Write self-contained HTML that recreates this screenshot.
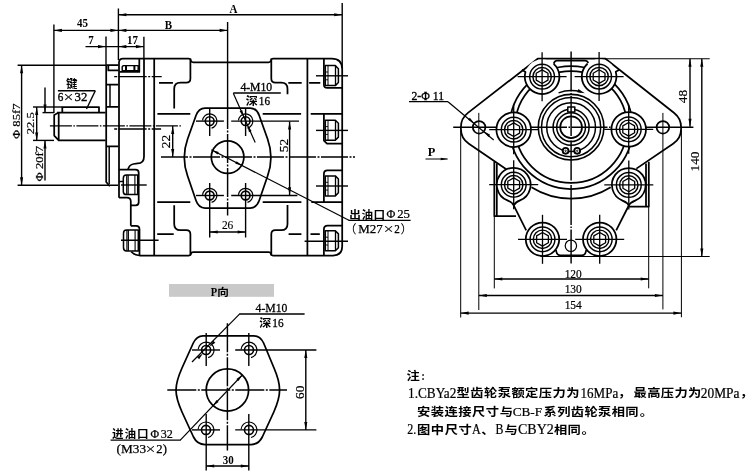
<!DOCTYPE html>
<html lang="zh">
<head>
<meta charset="utf-8">
<title>CBYa2型齿轮泵</title>
<style>
html,body{margin:0;padding:0;background:#fff;}
body{width:750px;height:475px;overflow:hidden;}
svg{display:block;will-change:transform;}
svg text{white-space:pre;}
</style>
</head>
<body>
<svg width="750" height="475" viewBox="0 0 750 475" fill="none" stroke="#000" stroke-linecap="butt" stroke-linejoin="round">
<rect x="0" y="0" width="750" height="475" fill="#fff" stroke="none" style="stroke:none"/>
<line x1="53.9" y1="24.6" x2="53.9" y2="113" stroke-width="1.4"/>
<line x1="106" y1="36.4" x2="106" y2="65" stroke-width="1.4"/>
<line x1="118.4" y1="8.5" x2="118.4" y2="60" stroke-width="1.4"/>
<line x1="143.9" y1="36.7" x2="143.9" y2="58.5" stroke-width="1.4"/>
<line x1="227.6" y1="22" x2="227.6" y2="100" stroke-width="1.4"/>
<line x1="342.2" y1="3" x2="342.2" y2="68" stroke-width="1.4"/>
<line x1="118.4" y1="14.7" x2="342.2" y2="14.7" stroke-width="1.4"/>
<polygon points="118.4,14.7 126.4,13.15 126.4,16.25" fill="#000" stroke="none"/>
<polygon points="342.2,14.7 334.2,16.25 334.2,13.15" fill="#000" stroke="none"/>
<text transform="translate(233.6 12.6) scale(0.86 1)" font-size="12.8" text-anchor="middle" font-weight="bold" font-family="&quot;Liberation Serif&quot;, &quot;Noto Sans CJK SC&quot;, serif" fill="#000" stroke="none">A</text>
<line x1="53.9" y1="30.4" x2="227.6" y2="30.4" stroke-width="1.4"/>
<polygon points="53.9,30.4 61.9,28.85 61.9,31.95" fill="#000" stroke="none"/>
<polygon points="118.4,30.4 110.4,31.95 110.4,28.85" fill="#000" stroke="none"/>
<polygon points="118.4,30.4 126.4,28.85 126.4,31.95" fill="#000" stroke="none"/>
<polygon points="227.6,30.4 219.6,31.95 219.6,28.85" fill="#000" stroke="none"/>
<text transform="translate(168.3 28.7) scale(0.86 1)" font-size="12.8" text-anchor="middle" font-weight="bold" font-family="&quot;Liberation Serif&quot;, &quot;Noto Sans CJK SC&quot;, serif" fill="#000" stroke="none">B</text>
<text transform="translate(82.5 26.9) scale(0.86 1)" font-size="12.8" text-anchor="middle" font-weight="bold" font-family="&quot;Liberation Serif&quot;, &quot;Noto Sans CJK SC&quot;, serif" fill="#000" stroke="none">45</text>
<line x1="85.5" y1="46.6" x2="143.9" y2="46.6" stroke-width="1.4"/>
<polygon points="106,46.6 98,48.15 98,45.05" fill="#000" stroke="none"/>
<polygon points="118.4,46.6 126.4,45.05 126.4,48.15" fill="#000" stroke="none"/>
<polygon points="143.9,46.6 135.9,48.15 135.9,45.05" fill="#000" stroke="none"/>
<text transform="translate(90.9 44.4) scale(0.86 1)" font-size="12.8" text-anchor="middle" font-weight="bold" font-family="&quot;Liberation Serif&quot;, &quot;Noto Sans CJK SC&quot;, serif" fill="#000" stroke="none">7</text>
<text transform="translate(132.4 44.4) scale(0.86 1)" font-size="12.8" text-anchor="middle" font-weight="bold" font-family="&quot;Liberation Serif&quot;, &quot;Noto Sans CJK SC&quot;, serif" fill="#000" stroke="none">17</text>
<line x1="17.6" y1="65.3" x2="106" y2="65.3" stroke-width="1.4"/>
<line x1="17.6" y1="185.2" x2="118" y2="185.2" stroke-width="1.4"/>
<line x1="21.6" y1="65.3" x2="21.6" y2="185.2" stroke-width="1.4"/>
<polygon points="21.6,65.3 23.15,73.3 20.05,73.3" fill="#000" stroke="none"/>
<polygon points="21.6,185.2 20.05,177.2 23.15,177.2" fill="#000" stroke="none"/>
<text transform="translate(19.6 121.3) rotate(-90) scale(1 0.86)" font-size="12.6" text-anchor="middle" font-weight="normal" font-family="&quot;Liberation Serif&quot;, &quot;Noto Sans CJK SC&quot;, serif" fill="#000" stroke="#000" stroke-width="0.22">Φ<tspan dx="3.15">85f7</tspan></text>
<line x1="33" y1="107" x2="62.3" y2="107" stroke-width="1.4"/>
<line x1="33" y1="140.4" x2="54" y2="140.4" stroke-width="1.4"/>
<line x1="36.7" y1="107" x2="36.7" y2="140.4" stroke-width="1.4"/>
<polygon points="36.7,107 38.25,115 35.15,115" fill="#000" stroke="none"/>
<polygon points="36.7,140.4 35.15,132.4 38.25,132.4" fill="#000" stroke="none"/>
<text transform="translate(34.4 123.3) rotate(-90) scale(1 0.86)" font-size="12.6" text-anchor="middle" font-weight="normal" font-family="&quot;Liberation Serif&quot;, &quot;Noto Sans CJK SC&quot;, serif" fill="#000" stroke="#000" stroke-width="0.22">22.5</text>
<line x1="45" y1="87.6" x2="45" y2="112.6" stroke-width="1.4"/>
<line x1="45" y1="140.4" x2="45" y2="180.4" stroke-width="1.4"/>
<line x1="42.5" y1="112.6" x2="54" y2="112.6" stroke-width="1.4"/>
<polygon points="45,112.6 43.45,104.6 46.55,104.6" fill="#000" stroke="none"/>
<polygon points="45,140.4 46.55,148.4 43.45,148.4" fill="#000" stroke="none"/>
<text transform="translate(42.9 163.7) rotate(-90) scale(1 0.86)" font-size="12.6" text-anchor="middle" font-weight="normal" font-family="&quot;Liberation Serif&quot;, &quot;Noto Sans CJK SC&quot;, serif" fill="#000" stroke="#000" stroke-width="0.22">Φ<tspan dx="3.15">20f7</tspan></text>
<text transform="translate(0 88.4) scale(1 0.95)" fill="#000"><tspan x="66.02" y="0" font-size="11.5" font-weight="bold" font-family="&quot;Liberation Sans&quot;, &quot;Noto Sans CJK SC&quot;, sans-serif" stroke="none" letter-spacing="0">键</tspan></text>
<line x1="57.9" y1="90.8" x2="95.3" y2="90.8" stroke-width="1.4"/>
<line x1="95.3" y1="90.8" x2="86.5" y2="109" stroke-width="1.4"/>
<text transform="translate(0 100.9) scale(1 1)" fill="#000"><tspan x="57.8" y="0" font-size="12.3" font-weight="normal" font-family="&quot;Liberation Serif&quot;, serif" stroke="#000" stroke-width="0.35" letter-spacing="0" textLength="5.6" lengthAdjust="spacingAndGlyphs">6</tspan><tspan x="63.6" y="0.7" font-size="15" font-weight="normal" font-family="&quot;Liberation Serif&quot;, serif" stroke="#000" stroke-width="0.15" letter-spacing="0" textLength="10" lengthAdjust="spacingAndGlyphs">×</tspan><tspan x="74.6" y="0" font-size="12.3" font-weight="normal" font-family="&quot;Liberation Serif&quot;, serif" stroke="#000" stroke-width="0.35" letter-spacing="0" textLength="12.8" lengthAdjust="spacingAndGlyphs">32</tspan></text>
<path d="M58.7,112.6 L54.2,115 L54.2,135.6 L58.7,140.4 L105.6,140.4 M57,112.6 L105.6,112.6 M58.7,112.6 L58.7,140.4" stroke-width="1.75" fill="none"/>
<path d="M62.3,112.6 L62.3,107 L99,107 L99,112.6" stroke-width="1.75" fill="none"/>
<line x1="49.9" y1="125.9" x2="181.5" y2="125.9" stroke-width="1.4" stroke-dasharray="22 1.5 1.5 1.5"/>
<path d="M106.2,65.2 L118.4,65.2 M106.2,65.2 L106.2,182 L109.8,186.3" stroke-width="1.75" fill="none"/>
<path d="M109.2,146.4 L109.2,184" stroke-width="1.45" fill="none"/>
<path d="M108.3,65.2 L108.3,70.4 L118.4,70.4 M106.2,84.7 L118.4,84.7" stroke-width="1.75" fill="none"/>
<path d="M110,84.9 L110,106.9" stroke-width="1.45" fill="none"/>
<path d="M106.2,106.9 L118.4,106.9 M106.2,146.4 L118.4,146.4" stroke-width="1.75" fill="none"/>
<path d="M119,197.7 L119,62.6 Q119,58.6 123,58.6 L188.8,58.6 Q190.6,58.6 190.9,60.4 Q191.3,62.3 193.2,62.3 L268.6,62.3 Q270.5,62.3 270.9,60.4 Q271.2,58.6 273,58.6 L331.6,58.6 Q342.2,58.6 342.2,69.2 L342.2,246.3 Q342.2,255.5 333,255.5 L273,255.5 Q271.2,255.5 270.9,253.8 Q270.5,252 268.6,252 L193.2,252 Q191.3,252 190.9,253.8 Q190.6,255.5 188.8,255.5 L139.5,255.5 Q134,255 131.3,251.8" stroke-width="1.75" fill="none"/>
<path d="M119,197.7 L127,197.7 Q130.8,197.7 130.8,201.5 L130.8,225.8" stroke-width="1.75" fill="none"/>
<path d="M154.2,58.6 L154.2,255.5 M307.4,58.6 L307.4,255.5" stroke-width="1.75" fill="none"/>
<path d="M144,58.6 L144,156.4 C144,161 141.5,163.3 137.7,163.3 L133.5,164 C130,164.6 128.6,167 128,169.5" stroke-width="1.75" fill="none"/>
<path d="M190.4,58.6 L190.4,78.5 Q190.4,82.6 186.3,82.6 L180.5,82.6 Q174.2,82.6 174.2,88.9 L174.2,108.5" stroke-width="1.75" fill="none"/>
<path d="M271.3,58.6 L271.3,78.5 Q271.3,82.6 275.4,82.6 L281.2,82.6 Q287.5,82.6 287.5,88.9 L287.5,94.3" stroke-width="1.75" fill="none"/>
<path d="M190.4,255.5 L190.4,234.3 Q190.4,230.2 186.3,230.2 L180.5,230.2 Q174.2,230.2 174.2,223.9 L174.2,205.3" stroke-width="1.75" fill="none"/>
<path d="M271.3,255.5 L271.3,234.3 Q271.3,230.2 275.4,230.2 L281.2,230.2 Q287.5,230.2 287.5,223.9 L287.5,205" stroke-width="1.75" fill="none"/>
<path d="M159,82.9 H172.9 M288.3,82.9 H301.7 M309.1,82.9 H320.3 M157.4,113.9 H190.3 M262.7,113.9 H301.1 M310.7,113.9 H342 M157.2,202.2 H190.3 M262.7,202.2 H301.4 M311.3,202.2 H342 M157.2,234 H173.7 M288.6,234 H301.4 M310.5,234 H319.8" stroke-width="1.75" fill="none"/>
<path d="M119.6,71.9 L139.3,71.9 L139.3,58.6" stroke-width="1.75" fill="none"/>
<path d="M122.2,70.8 L122.2,66.8 L123.4,65.6 L138.2,65.6 L138.2,70.8 Z" stroke-width="1.45" fill="none"/>
<path d="M126,65.6 V70.8 M134.4,65.6 V70.8" stroke-width="2.0" fill="none"/>
<line x1="114.2" y1="76.6" x2="161.7" y2="76.6" stroke-width="1.4" stroke-dasharray="3 1.5 28 1.5 2 1.5 20 0"/>
<line x1="114.2" y1="129" x2="161.1" y2="129" stroke-width="1.4" stroke-dasharray="3 1.5 28 1.5 2 1.5 20 0"/>
<path d="M119,169.5 L135.5,169.5 Q138.7,169.5 138.7,172.7 L138.7,202.3 Q138.7,205.3 135.7,205.3 L130.8,205.3" stroke-width="1.75" fill="none"/>
<path d="M137.7,175 L126.3,175 Q123.3,175 123.3,178.2 L123.3,191.4 Q123.3,194.6 126.3,194.6 L137.7,194.6 Z" stroke-width="1.5" fill="none"/>
<path d="M126.7,175 V194.6 M128.2,175 V194.6 M134.9,175 V194.6" stroke-width="1.1" fill="none"/>
<line x1="119" y1="181.5" x2="123.3" y2="181.5" stroke-width="1.45"/>
<line x1="121" y1="185" x2="146.7" y2="185" stroke-width="1.4"/>
<path d="M130.8,225.8 L136,225.8 Q139.5,225.8 139.5,229.3 L139.5,255.5" stroke-width="1.75" fill="none"/>
<path d="M138.3,230 L126.5,230 Q123.5,230 123.5,233.2 L123.5,247.8 Q123.5,251 126.5,251 L138.3,251 Z" stroke-width="1.5" fill="none"/>
<path d="M126.9,230 V251 M128.4,230 V251 M135.1,230 V251" stroke-width="1.1" fill="none"/>
<line x1="121" y1="240.2" x2="158.6" y2="240.2" stroke-width="1.4"/>
<path d="M323.9,58.6 L323.9,84.4 Q323.9,87.9 327.4,87.9 L342,87.9" stroke-width="1.75" fill="none"/>
<path d="M323.9,113.9 L323.9,140.6 L327,143.7 L342,143.7" stroke-width="1.75" fill="none"/>
<path d="M342,170.3 L327.4,170.3 Q323.9,170.3 323.9,173.8 L323.9,202.2" stroke-width="1.75" fill="none"/>
<path d="M342,225.6 L327.6,225.6 Q323.9,225.6 323.9,229.3 L323.9,255.5" stroke-width="1.75" fill="none"/>
<path d="M325.3,65.6 L335.3,65.6 L338.4,68.7 L338.4,82.5 L335.3,85.6 L325.3,85.6 Z" stroke-width="1.5" fill="none"/>
<path d="M335.5,65.6 V85.6" stroke-width="1.3" fill="none"/>
<path d="M328,65.6 V85.6" stroke-width="1.0" fill="none"/>
<path d="M325.3,72 H328 M325.3,79.8 H328" stroke-width="0.9" fill="none"/>
<path d="M325.3,120.2 L335.3,120.2 L338.4,123.3 L338.4,137.1 L335.3,140.2 L325.3,140.2 Z" stroke-width="1.5" fill="none"/>
<path d="M335.5,120.2 V140.2" stroke-width="1.3" fill="none"/>
<path d="M328,120.2 V140.2" stroke-width="1.0" fill="none"/>
<path d="M325.3,126.6 H328 M325.3,134.4 H328" stroke-width="0.9" fill="none"/>
<path d="M325.3,175.9 L335.3,175.9 L338.4,179 L338.4,192.8 L335.3,195.9 L325.3,195.9 Z" stroke-width="1.5" fill="none"/>
<path d="M335.5,175.9 V195.9" stroke-width="1.3" fill="none"/>
<path d="M328,175.9 V195.9" stroke-width="1.0" fill="none"/>
<path d="M325.3,182.3 H328 M325.3,190.1 H328" stroke-width="0.9" fill="none"/>
<path d="M325.3,230.8 L335.3,230.8 L338.4,233.9 L338.4,247.7 L335.3,250.8 L325.3,250.8 Z" stroke-width="1.5" fill="none"/>
<path d="M335.5,230.8 V250.8" stroke-width="1.3" fill="none"/>
<path d="M328,230.8 V250.8" stroke-width="1.0" fill="none"/>
<path d="M325.3,237.2 H328 M325.3,245 H328" stroke-width="0.9" fill="none"/>
<line x1="316" y1="75.8" x2="348" y2="75.8" stroke-width="1.4"/>
<line x1="316" y1="130.4" x2="348" y2="130.4" stroke-width="1.4"/>
<line x1="316" y1="186" x2="348" y2="186" stroke-width="1.4"/>
<line x1="304.6" y1="241.2" x2="348" y2="241.2" stroke-width="1.4"/>
<path d="M205,108 H250.2 C255.5,108 257.6,111 259.2,115.5 L267.6,139 C271.9,151 271.9,164 267.6,176 L259.2,200.5 C257.6,205 255.5,208 250.2,208 H205 C199.7,208 197.6,205 196,200.5 L187.6,176 C183.3,164 183.3,151 187.6,139 L196,115.5 C197.6,111 199.7,108 205,108 Z" stroke-width="1.75" fill="none"/>
<circle cx="227.6" cy="157.1" r="16.3" stroke-width="1.75" fill="none"/>
<line x1="227.6" y1="100" x2="227.6" y2="215.5" stroke-width="1.45" stroke-dasharray="29 1.5 2 1.5"/>
<line x1="161" y1="157" x2="355" y2="157" stroke-width="1.4" stroke-dasharray="27 1.5 2 1.5"/>
<circle cx="209.7" cy="121.1" r="4.4" stroke-width="1.6" fill="none"/>
<path d="M202.53,120.47 A7.2,7.2 0 1 1 211.56,128.05" stroke-width="1.2" fill="none"/>
<circle cx="245.6" cy="121.1" r="4.4" stroke-width="1.6" fill="none"/>
<path d="M238.43,120.47 A7.2,7.2 0 1 1 247.46,128.05" stroke-width="1.2" fill="none"/>
<circle cx="209.7" cy="195.5" r="4.4" stroke-width="1.6" fill="none"/>
<path d="M202.53,194.87 A7.2,7.2 0 1 1 211.56,202.45" stroke-width="1.2" fill="none"/>
<circle cx="245.6" cy="195.5" r="4.4" stroke-width="1.6" fill="none"/>
<path d="M238.43,194.87 A7.2,7.2 0 1 1 247.46,202.45" stroke-width="1.2" fill="none"/>
<line x1="196" y1="121.1" x2="223.9" y2="121.1" stroke-width="1.4"/>
<line x1="231.2" y1="121.1" x2="299" y2="121.1" stroke-width="1.4"/>
<line x1="196" y1="195.5" x2="223.9" y2="195.5" stroke-width="1.4"/>
<line x1="231.2" y1="195.5" x2="297.4" y2="195.5" stroke-width="1.4"/>
<line x1="209.7" y1="108.9" x2="209.7" y2="136" stroke-width="1.4"/>
<line x1="245.6" y1="108.9" x2="245.6" y2="136" stroke-width="1.4"/>
<line x1="209.7" y1="183" x2="209.7" y2="237.5" stroke-width="1.4"/>
<line x1="245.6" y1="183" x2="245.6" y2="237.5" stroke-width="1.4"/>
<line x1="209.7" y1="232" x2="245.6" y2="232" stroke-width="1.4"/>
<polygon points="209.7,232 217.7,230.45 217.7,233.55" fill="#000" stroke="none"/>
<polygon points="245.6,232 237.6,233.55 237.6,230.45" fill="#000" stroke="none"/>
<text transform="translate(227.6 229.2) scale(0.86 1)" font-size="13.3" text-anchor="middle" font-weight="normal" font-family="&quot;Liberation Serif&quot;, &quot;Noto Sans CJK SC&quot;, serif" fill="#000" stroke="#000" stroke-width="0.15">26</text>
<line x1="289.6" y1="121.5" x2="289.6" y2="195.3" stroke-width="1.4"/>
<polygon points="289.6,121.5 291.15,129.5 288.05,129.5" fill="#000" stroke="none"/>
<polygon points="289.6,195.3 288.05,187.3 291.15,187.3" fill="#000" stroke="none"/>
<text transform="translate(287.6 145.6) rotate(-90) scale(1 0.86)" font-size="13.3" text-anchor="middle" font-weight="normal" font-family="&quot;Liberation Serif&quot;, &quot;Noto Sans CJK SC&quot;, serif" fill="#000" stroke="#000" stroke-width="0.22">52</text>
<line x1="172.7" y1="126" x2="172.7" y2="157" stroke-width="1.4"/>
<polygon points="172.7,126 174.25,134 171.15,134" fill="#000" stroke="none"/>
<polygon points="172.7,157 171.15,149 174.25,149" fill="#000" stroke="none"/>
<text transform="translate(170.2 141.5) rotate(-90) scale(1 0.86)" font-size="13.3" text-anchor="middle" font-weight="normal" font-family="&quot;Liberation Serif&quot;, &quot;Noto Sans CJK SC&quot;, serif" fill="#000" stroke="#000" stroke-width="0.22">22</text>
<text transform="translate(256.3 91.2) scale(0.9 1)" font-size="13" text-anchor="middle" font-weight="normal" font-family="&quot;Liberation Serif&quot;, &quot;Noto Sans CJK SC&quot;, serif" fill="#000" stroke="#000" stroke-width="0.35">4-M10</text>
<line x1="233.3" y1="93.1" x2="280.8" y2="93.1" stroke-width="1.5"/>
<text transform="translate(0 104.8) scale(1 0.9)" fill="#000"><tspan x="245.7" y="0" font-size="12" font-weight="bold" font-family="&quot;Liberation Sans&quot;, &quot;Noto Sans CJK SC&quot;, sans-serif" stroke="none" letter-spacing="0">深</tspan><tspan x="258.8" y="-0.11" font-size="13.67" font-weight="normal" font-family="&quot;Liberation Serif&quot;, serif" stroke="#000" stroke-width="0.35" letter-spacing="0" textLength="11.2" lengthAdjust="spacingAndGlyphs">16</tspan></text>
<line x1="233.3" y1="93.2" x2="255.2" y2="142.5" stroke-width="1.2"/>
<polygon points="243.77,116.99 239.65,111.16 242.21,110.02" fill="#000" stroke="none"/>
<polygon points="247.43,125.21 251.55,131.04 248.99,132.18" fill="#000" stroke="none"/>
<line x1="211.3" y1="149.8" x2="348.9" y2="220.3" stroke-width="1.2"/>
<line x1="348.4" y1="220.3" x2="410.6" y2="220.3" stroke-width="1.3"/>
<polygon points="211.9,150.1 218.77,152.04 217.5,154.53" fill="#000" stroke="none"/>
<polygon points="242.2,165.6 235.33,163.66 236.6,161.17" fill="#000" stroke="none"/>
<text transform="translate(0 218.6) scale(1 0.95)" fill="#000"><tspan x="349.32" y="0" font-size="11.6" font-weight="bold" font-family="&quot;Liberation Sans&quot;, &quot;Noto Sans CJK SC&quot;, sans-serif" stroke="none" letter-spacing="0.5">出油口</tspan><tspan x="386.6" y="-0.21" font-size="12.11" font-weight="normal" font-family="&quot;Liberation Serif&quot;, serif" stroke="#000" stroke-width="0.25" letter-spacing="0" textLength="8.8" lengthAdjust="spacingAndGlyphs">Φ</tspan><tspan x="397.2" y="-0.21" font-size="13.68" font-weight="normal" font-family="&quot;Liberation Serif&quot;, serif" stroke="#000" stroke-width="0.25" letter-spacing="0" textLength="12.8" lengthAdjust="spacingAndGlyphs">25</tspan></text>
<text transform="translate(0 233.6) scale(1 1)" fill="#000"><tspan x="344.6" y="0" font-size="12" font-weight="normal" font-family="&quot;Liberation Sans&quot;, &quot;Noto Sans CJK SC&quot;, sans-serif" stroke="none" letter-spacing="0">（</tspan><tspan x="358.3" y="-0.4" font-size="12.3" font-weight="normal" font-family="&quot;Liberation Serif&quot;, serif" stroke="#000" stroke-width="0.25" letter-spacing="0" textLength="24.5" lengthAdjust="spacingAndGlyphs">M27</tspan><tspan x="383.4" y="0.4" font-size="15" font-weight="normal" font-family="&quot;Liberation Serif&quot;, serif" stroke="#000" stroke-width="0.1" letter-spacing="0" textLength="10.2" lengthAdjust="spacingAndGlyphs">×</tspan><tspan x="394.2" y="-0.4" font-size="12.3" font-weight="normal" font-family="&quot;Liberation Serif&quot;, serif" stroke="#000" stroke-width="0.25" letter-spacing="0" textLength="5.6" lengthAdjust="spacingAndGlyphs">2</tspan><tspan x="400.6" y="0" font-size="12" font-weight="normal" font-family="&quot;Liberation Sans&quot;, &quot;Noto Sans CJK SC&quot;, sans-serif" stroke="none" letter-spacing="0">）</tspan></text>
<circle cx="571.1" cy="127.5" r="61.5" stroke-width="1.75" fill="none"/>
<circle cx="571.1" cy="127" r="55.9" stroke-width="1.75" fill="none"/>
<path d="M531.5,187.2 A74.5,74.5 0 0 0 610.7,187.2" stroke-width="1.75" fill="none"/>
<path d="M506.3,169.2 L468.87,143.75 A18.2,18.2 0 0 1 460.9,128.7 L460.9,127.3 A18.2,18.2 0 0 1 467.93,112.93 L537.7,58.7 L605.5,58.7 L674.19,113.02 A18.2,18.2 0 0 1 681.1,127.3 L681.1,128.7 A18.2,18.2 0 0 1 673.1,143.77 L636.4,168.6" stroke-width="1.75" fill="none"/>
<circle cx="479.1" cy="127.3" r="6.3" stroke-width="1.75" fill="none"/>
<circle cx="662.9" cy="127.3" r="6.3" stroke-width="1.75" fill="none"/>
<path d="M553.7,63.9 Q554.3,60.6 557.6,60.5 H584.6 Q587.9,60.6 588.5,63.9" stroke-width="1.75" fill="none"/>
<path d="M494.3,161.7 V216 H516 M496.8,163.5 V216" stroke-width="1.75" fill="none"/>
<path d="M648.8,161.7 V206.6 H629 M646,163.5 V206.6" stroke-width="1.75" fill="none"/>
<path d="M513.7,205.3 L526.2,230.4 M628.8,205.5 L616.2,230.4" stroke-width="1.75" fill="none"/>
<path d="M556,250 Q556.6,255.4 560.5,255.4 H581.7 Q585.6,255.4 586.2,250" stroke-width="1.75" fill="none"/>
<line x1="540.4" y1="256.5" x2="709.7" y2="256.5" stroke-width="1.1"/>
<line x1="605.5" y1="58.7" x2="709.7" y2="58.7" stroke-width="1.1"/>
<circle cx="570.9" cy="245.8" r="5.7" stroke-width="1.2" fill="none"/>
<circle cx="542.1" cy="76.7" r="17.3" fill="#fff" stroke="none"/>
<path d="M553.68,63.84 A17.3,17.3 0 1 1 525.47,71.93 l-3.6,-2.2" stroke-width="1.75" fill="none"/>
<circle cx="542.1" cy="76.7" r="12.4" stroke-width="1.45" fill="none"/>
<circle cx="542.1" cy="76.7" r="9.2" stroke-width="1.45" fill="none"/>
<polygon points="542.1,83.5 536.21,80.1 536.21,73.3 542.1,69.9 547.99,73.3 547.99,80.1" stroke-width="1.3" fill="none"/>
<circle cx="599.1" cy="76.6" r="17.3" fill="#fff" stroke="none"/>
<path d="M587.52,63.74 A17.3,17.3 0 1 0 615.73,71.83 l3.6,-2.2" stroke-width="1.75" fill="none"/>
<circle cx="599.1" cy="76.6" r="12.4" stroke-width="1.45" fill="none"/>
<circle cx="599.1" cy="76.6" r="9.2" stroke-width="1.45" fill="none"/>
<polygon points="599.1,83.4 593.21,80 593.21,73.2 599.1,69.8 604.99,73.2 604.99,80" stroke-width="1.3" fill="none"/>
<circle cx="513.7" cy="129.7" r="17.3" stroke-width="1.75" fill="#fff"/>
<circle cx="513.7" cy="129.7" r="12.4" stroke-width="1.45" fill="none"/>
<circle cx="513.7" cy="129.7" r="9.2" stroke-width="1.45" fill="none"/>
<polygon points="513.7,136.5 507.81,133.1 507.81,126.3 513.7,122.9 519.59,126.3 519.59,133.1" stroke-width="1.3" fill="none"/>
<circle cx="628.7" cy="129.3" r="17.3" stroke-width="1.75" fill="#fff"/>
<circle cx="628.7" cy="129.3" r="12.4" stroke-width="1.45" fill="none"/>
<circle cx="628.7" cy="129.3" r="9.2" stroke-width="1.45" fill="none"/>
<polygon points="628.7,136.1 622.81,132.7 622.81,125.9 628.7,122.5 634.59,125.9 634.59,132.7" stroke-width="1.3" fill="none"/>
<path d="M513.7,205.3 Q512.2,202.3 507.37,200.37 A16.9,16.9 0 1 1 520.03,200.37 Q515.2,202.3 513.7,205.3 Z" stroke-width="1.75" fill="#fff"/>
<circle cx="513.7" cy="184.7" r="12.4" stroke-width="1.45" fill="none"/>
<circle cx="513.7" cy="184.7" r="9.2" stroke-width="1.45" fill="none"/>
<polygon points="513.7,191.5 507.81,188.1 507.81,181.3 513.7,177.9 519.59,181.3 519.59,188.1" stroke-width="1.3" fill="none"/>
<path d="M628.8,205.5 Q627.3,202.5 622.47,200.57 A16.9,16.9 0 1 1 635.13,200.57 Q630.3,202.5 628.8,205.5 Z" stroke-width="1.75" fill="#fff"/>
<circle cx="628.8" cy="184.9" r="12.4" stroke-width="1.45" fill="none"/>
<circle cx="628.8" cy="184.9" r="9.2" stroke-width="1.45" fill="none"/>
<polygon points="628.8,191.7 622.91,188.3 622.91,181.5 628.8,178.1 634.69,181.5 634.69,188.3" stroke-width="1.3" fill="none"/>
<circle cx="542.5" cy="239.3" r="16.7" stroke-width="1.75" fill="#fff"/>
<circle cx="542.5" cy="239.3" r="12.4" stroke-width="1.45" fill="none"/>
<circle cx="542.5" cy="239.3" r="9.2" stroke-width="1.45" fill="none"/>
<polygon points="542.5,246.1 536.61,242.7 536.61,235.9 542.5,232.5 548.39,235.9 548.39,242.7" stroke-width="1.3" fill="none"/>
<circle cx="599.7" cy="239.3" r="16.7" stroke-width="1.75" fill="#fff"/>
<circle cx="599.7" cy="239.3" r="12.4" stroke-width="1.45" fill="none"/>
<circle cx="599.7" cy="239.3" r="9.2" stroke-width="1.45" fill="none"/>
<polygon points="599.7,246.1 593.81,242.7 593.81,235.9 599.7,232.5 605.59,235.9 605.59,242.7" stroke-width="1.3" fill="none"/>
<circle cx="571.1" cy="127.2" r="10.9" stroke-width="1.7" fill="none"/>
<circle cx="571.1" cy="127.2" r="14.4" stroke-width="1.5" fill="none"/>
<circle cx="571.1" cy="127.2" r="18" stroke-width="1.5" fill="none"/>
<circle cx="571.1" cy="127.2" r="24.4" stroke-width="1.5" fill="none"/>
<circle cx="571.1" cy="127.2" r="29.6" stroke-width="1.5" fill="none"/>
<circle cx="571.1" cy="127.2" r="32.8" stroke-width="1.6" fill="none"/>
<rect x="567.8" y="107.1" width="7" height="5" stroke-width="1.5" fill="#fff"/>
<circle cx="565.6" cy="150.8" r="2.9" stroke-width="1.9" fill="#fff"/>
<circle cx="565.6" cy="150.8" r="0.7" stroke-width="0.9" fill="none"/>
<circle cx="577.2" cy="150.8" r="2.9" stroke-width="1.9" fill="#fff"/>
<circle cx="577.2" cy="150.8" r="0.7" stroke-width="0.9" fill="none"/>
<path d="M558.58,92.81 A36.6,36.6 0 0 1 581.19,92.02" stroke-width="1.4" fill="none"/>
<polygon points="584.81,93.27 577.18,92.3 578.34,89.1" fill="#000" stroke="none"/>
<line x1="453.2" y1="127.3" x2="496.5" y2="127.3" stroke-width="1.4"/>
<line x1="531" y1="127.3" x2="611.2" y2="127.3" stroke-width="1.4" stroke-dasharray="36 1.5 1.5 1.5"/>
<line x1="645.7" y1="127.3" x2="693.4" y2="127.3" stroke-width="1.4"/>
<line x1="571.1" y1="51.5" x2="571.1" y2="263.5" stroke-width="1.45" stroke-dasharray="40 1.5 1.5 1.5"/>
<line x1="517.6" y1="76.7" x2="566.6" y2="76.7" stroke-width="1.3"/>
<line x1="542.1" y1="52.2" x2="542.1" y2="101.2" stroke-width="1.3"/>
<line x1="574.6" y1="76.6" x2="623.6" y2="76.6" stroke-width="1.3"/>
<line x1="599.1" y1="52.1" x2="599.1" y2="101.1" stroke-width="1.3"/>
<line x1="489.2" y1="129.7" x2="538.2" y2="129.7" stroke-width="1.3"/>
<line x1="513.7" y1="105.2" x2="513.7" y2="154.2" stroke-width="1.3"/>
<line x1="604.2" y1="129.3" x2="653.2" y2="129.3" stroke-width="1.3"/>
<line x1="628.7" y1="104.8" x2="628.7" y2="153.8" stroke-width="1.3"/>
<line x1="489.2" y1="184.7" x2="538.2" y2="184.7" stroke-width="1.3"/>
<line x1="513.7" y1="160.2" x2="513.7" y2="209.2" stroke-width="1.3"/>
<line x1="604.3" y1="184.9" x2="653.3" y2="184.9" stroke-width="1.3"/>
<line x1="628.8" y1="160.4" x2="628.8" y2="209.4" stroke-width="1.3"/>
<line x1="518" y1="239.3" x2="567" y2="239.3" stroke-width="1.3"/>
<line x1="542.5" y1="214.8" x2="542.5" y2="263.8" stroke-width="1.3"/>
<line x1="575.2" y1="239.3" x2="624.2" y2="239.3" stroke-width="1.3"/>
<line x1="599.7" y1="214.8" x2="599.7" y2="263.8" stroke-width="1.3"/>
<line x1="460.7" y1="130" x2="460.7" y2="317.5" stroke-width="1.0"/>
<line x1="478.8" y1="112.9" x2="478.8" y2="310" stroke-width="1.0"/>
<line x1="494.3" y1="216" x2="494.3" y2="288.4" stroke-width="1.0"/>
<line x1="648.7" y1="206.8" x2="648.7" y2="288.3" stroke-width="1.0"/>
<line x1="662.9" y1="112.9" x2="662.9" y2="309.4" stroke-width="1.0"/>
<line x1="681.4" y1="130" x2="681.4" y2="317.3" stroke-width="1.0"/>
<line x1="494.3" y1="279" x2="648.7" y2="279" stroke-width="1.4"/>
<polygon points="494.3,279 502.3,277.45 502.3,280.55" fill="#000" stroke="none"/>
<polygon points="648.7,279 640.7,280.55 640.7,277.45" fill="#000" stroke="none"/>
<text transform="translate(573.2 277.6) scale(0.86 1)" font-size="13.3" text-anchor="middle" font-weight="normal" font-family="&quot;Liberation Serif&quot;, &quot;Noto Sans CJK SC&quot;, serif" fill="#000" stroke="#000" stroke-width="0.22">120</text>
<line x1="478.8" y1="295.5" x2="662.9" y2="295.5" stroke-width="1.4"/>
<polygon points="478.8,295.5 486.8,293.95 486.8,297.05" fill="#000" stroke="none"/>
<polygon points="662.9,295.5 654.9,297.05 654.9,293.95" fill="#000" stroke="none"/>
<text transform="translate(573.2 292.5) scale(0.86 1)" font-size="13.3" text-anchor="middle" font-weight="normal" font-family="&quot;Liberation Serif&quot;, &quot;Noto Sans CJK SC&quot;, serif" fill="#000" stroke="#000" stroke-width="0.22">130</text>
<line x1="460.7" y1="313.1" x2="681.4" y2="313.1" stroke-width="1.4"/>
<polygon points="460.7,313.1 468.7,311.55 468.7,314.65" fill="#000" stroke="none"/>
<polygon points="681.4,313.1 673.4,314.65 673.4,311.55" fill="#000" stroke="none"/>
<text transform="translate(573.2 309.2) scale(0.86 1)" font-size="13.3" text-anchor="middle" font-weight="normal" font-family="&quot;Liberation Serif&quot;, &quot;Noto Sans CJK SC&quot;, serif" fill="#000" stroke="#000" stroke-width="0.22">154</text>
<line x1="690" y1="58.7" x2="690" y2="126.8" stroke-width="1.4"/>
<polygon points="690,58.7 691.55,66.7 688.45,66.7" fill="#000" stroke="none"/>
<polygon points="690,126.8 688.45,118.8 691.55,118.8" fill="#000" stroke="none"/>
<text transform="translate(687.3 96.5) rotate(-90) scale(1 0.86)" font-size="13.3" text-anchor="middle" font-weight="normal" font-family="&quot;Liberation Serif&quot;, &quot;Noto Sans CJK SC&quot;, serif" fill="#000" stroke="#000" stroke-width="0.22">48</text>
<line x1="701.8" y1="58.7" x2="701.8" y2="256.5" stroke-width="1.4"/>
<polygon points="701.8,58.7 703.35,66.7 700.25,66.7" fill="#000" stroke="none"/>
<polygon points="701.8,256.5 700.25,248.5 703.35,248.5" fill="#000" stroke="none"/>
<text transform="translate(699.2 161.5) rotate(-90) scale(1 0.86)" font-size="13.3" text-anchor="middle" font-weight="normal" font-family="&quot;Liberation Serif&quot;, &quot;Noto Sans CJK SC&quot;, serif" fill="#000" stroke="#000" stroke-width="0.22">140</text>
<text transform="translate(427.8 99.6) scale(0.92 1)" font-size="12.8" text-anchor="middle" font-weight="normal" font-family="&quot;Liberation Serif&quot;, &quot;Noto Sans CJK SC&quot;, serif" fill="#000" stroke="#000" stroke-width="0.35">2-Φ<tspan dx="3.2">11</tspan></text>
<line x1="409" y1="101.7" x2="448" y2="101.7" stroke-width="1.2"/>
<line x1="448" y1="101.7" x2="493.7" y2="140" stroke-width="1.2"/>
<polygon points="474.27,123.25 468.01,119.83 469.81,117.68" fill="#000" stroke="none"/>
<polygon points="483.93,131.35 490.19,134.77 488.39,136.92" fill="#000" stroke="none"/>
<text transform="translate(431.6 155.7) scale(0.95 1)" font-size="13" text-anchor="middle" font-weight="bold" font-family="&quot;Liberation Serif&quot;, &quot;Noto Sans CJK SC&quot;, serif" fill="#000" stroke="none">P</text>
<line x1="425.5" y1="159" x2="447.7" y2="159" stroke-width="1.0"/>
<polygon points="447.7,159 440.7,160.3 440.7,157.7" fill="#000" stroke="none"/>
<rect x="169" y="284" width="105" height="12.8" fill="#c9c9c9" stroke="none"/>
<text transform="translate(0 296) scale(1 0.92)" fill="#000"><tspan x="210.8" y="0" font-size="12.61" font-weight="bold" font-family="&quot;Liberation Serif&quot;, serif" stroke="none" letter-spacing="0" textLength="6.4" lengthAdjust="spacingAndGlyphs">P</tspan><tspan x="217.22" y="0.22" font-size="11.6" font-weight="bold" font-family="&quot;Liberation Sans&quot;, &quot;Noto Sans CJK SC&quot;, sans-serif" stroke="none" letter-spacing="-0.6">向</tspan></text>
<path d="M203,335.8 H253.5 C258.5,335.8 261.5,338.3 263.6,343 L274,368 C277.9,377 279.6,383 279.6,390 C279.6,397 277.8,403 273.8,412 L262.3,437 C259.8,442 256.5,444.5 251,444.5 H205 C199.5,444.5 196,442 193.5,437 L182,412 C178,403 176,397 176,390 C176,383 178,377 182,368 L193.3,343 C195.5,338.3 198.3,335.8 203,335.8 Z" stroke-width="1.75" fill="none"/>
<circle cx="227.4" cy="390" r="21.2" stroke-width="1.75" fill="none"/>
<line x1="167.3" y1="390" x2="287" y2="390" stroke-width="1.4" stroke-dasharray="29 1.5 2 1.5"/>
<line x1="227.4" y1="323.2" x2="227.4" y2="450.4" stroke-width="1.45" stroke-dasharray="29 1.5 2 1.5"/>
<circle cx="206.1" cy="350" r="4.5" stroke-width="1.6" fill="none"/>
<path d="M198.23,349.31 A7.9,7.9 0 1 1 208.14,357.63" stroke-width="1.2" fill="none"/>
<circle cx="249" cy="350" r="4.5" stroke-width="1.6" fill="none"/>
<path d="M241.13,349.31 A7.9,7.9 0 1 1 251.04,357.63" stroke-width="1.2" fill="none"/>
<circle cx="206" cy="429.9" r="4.5" stroke-width="1.6" fill="none"/>
<path d="M198.13,429.21 A7.9,7.9 0 1 1 208.04,437.53" stroke-width="1.2" fill="none"/>
<circle cx="249" cy="429.9" r="4.5" stroke-width="1.6" fill="none"/>
<path d="M241.13,429.21 A7.9,7.9 0 1 1 251.04,437.53" stroke-width="1.2" fill="none"/>
<line x1="192" y1="350" x2="220" y2="350" stroke-width="1.4"/>
<line x1="235.2" y1="350" x2="316.4" y2="350" stroke-width="1.4"/>
<line x1="192" y1="429.9" x2="220" y2="429.9" stroke-width="1.4"/>
<line x1="235.2" y1="429.9" x2="316.4" y2="429.9" stroke-width="1.4"/>
<line x1="206.2" y1="333" x2="206.2" y2="366" stroke-width="1.4"/>
<line x1="248.8" y1="333" x2="248.8" y2="366" stroke-width="1.4"/>
<line x1="206.2" y1="414" x2="206.2" y2="470.4" stroke-width="1.4"/>
<line x1="248.8" y1="414" x2="248.8" y2="470.4" stroke-width="1.4"/>
<line x1="206.2" y1="466" x2="248.8" y2="466" stroke-width="1.4"/>
<polygon points="206.2,466 214.2,464.45 214.2,467.55" fill="#000" stroke="none"/>
<polygon points="248.8,466 240.8,467.55 240.8,464.45" fill="#000" stroke="none"/>
<text transform="translate(228.2 464) scale(0.86 1)" font-size="12.8" text-anchor="middle" font-weight="bold" font-family="&quot;Liberation Serif&quot;, &quot;Noto Sans CJK SC&quot;, serif" fill="#000" stroke="none">30</text>
<line x1="305.8" y1="350" x2="305.8" y2="429.9" stroke-width="1.4"/>
<polygon points="305.8,350 307.35,358 304.25,358" fill="#000" stroke="none"/>
<polygon points="305.8,429.9 304.25,421.9 307.35,421.9" fill="#000" stroke="none"/>
<text transform="translate(303.5 392.3) rotate(-90) scale(1 0.86)" font-size="13.3" text-anchor="middle" font-weight="normal" font-family="&quot;Liberation Serif&quot;, &quot;Noto Sans CJK SC&quot;, serif" fill="#000" stroke="#000" stroke-width="0.22">60</text>
<text transform="translate(271.5 312.4) scale(0.9 1)" font-size="13" text-anchor="middle" font-weight="normal" font-family="&quot;Liberation Serif&quot;, &quot;Noto Sans CJK SC&quot;, serif" fill="#000" stroke="#000" stroke-width="0.3">4-M10</text>
<line x1="239.6" y1="313.9" x2="304.6" y2="313.9" stroke-width="1.5"/>
<text transform="translate(0 326.8) scale(1 0.9)" fill="#000"><tspan x="259.2" y="0" font-size="12" font-weight="bold" font-family="&quot;Liberation Sans&quot;, &quot;Noto Sans CJK SC&quot;, sans-serif" stroke="none" letter-spacing="0">深</tspan><tspan x="272.3" y="-0.11" font-size="13.67" font-weight="normal" font-family="&quot;Liberation Serif&quot;, serif" stroke="#000" stroke-width="0.35" letter-spacing="0" textLength="11.2" lengthAdjust="spacingAndGlyphs">16</tspan></text>
<line x1="240" y1="313.6" x2="192" y2="362" stroke-width="1.2"/>
<polygon points="209.37,346.8 213.3,340.85 215.29,342.82" fill="#000" stroke="none"/>
<polygon points="203.03,353.2 199.1,359.15 197.11,357.18" fill="#000" stroke="none"/>
<line x1="242.3" y1="375" x2="180.3" y2="440.1" stroke-width="1.2"/>
<line x1="180.8" y1="440.1" x2="110.6" y2="440.1" stroke-width="1.3"/>
<polygon points="242.3,375 238.47,381.03 236.45,379.09" fill="#000" stroke="none"/>
<polygon points="212.7,406 216.53,399.97 218.55,401.91" fill="#000" stroke="none"/>
<text transform="translate(0 438.3) scale(1 0.95)" fill="#000"><tspan x="112.12" y="0" font-size="11.6" font-weight="bold" font-family="&quot;Liberation Sans&quot;, &quot;Noto Sans CJK SC&quot;, sans-serif" stroke="none" letter-spacing="0.8">进油口</tspan><tspan x="150.4" y="-0.11" font-size="12.11" font-weight="normal" font-family="&quot;Liberation Serif&quot;, serif" stroke="#000" stroke-width="0.25" letter-spacing="0" textLength="8.6" lengthAdjust="spacingAndGlyphs">Φ</tspan><tspan x="160.7" y="-0.11" font-size="13.68" font-weight="normal" font-family="&quot;Liberation Serif&quot;, serif" stroke="#000" stroke-width="0.25" letter-spacing="0" textLength="12.1" lengthAdjust="spacingAndGlyphs">32</tspan></text>
<text transform="translate(0 453) scale(1 1)" fill="#000"><tspan x="116.6" y="0" font-size="12.3" font-weight="normal" font-family="&quot;Liberation Serif&quot;, serif" stroke="#000" stroke-width="0.25" letter-spacing="0" textLength="29.4" lengthAdjust="spacingAndGlyphs">(M33</tspan><tspan x="145.6" y="0.8" font-size="15" font-weight="normal" font-family="&quot;Liberation Serif&quot;, serif" stroke="#000" stroke-width="0.1" letter-spacing="0" textLength="10" lengthAdjust="spacingAndGlyphs">×</tspan><tspan x="156.3" y="0" font-size="12.3" font-weight="normal" font-family="&quot;Liberation Serif&quot;, serif" stroke="#000" stroke-width="0.25" letter-spacing="0" textLength="10.6" lengthAdjust="spacingAndGlyphs">2)</tspan></text>
<text transform="translate(0 379.7) scale(1 0.88)" fill="#000"><tspan x="406.44" y="0" font-size="13.3" font-weight="bold" font-family="&quot;Liberation Sans&quot;, &quot;Noto Sans CJK SC&quot;, sans-serif" stroke="none" letter-spacing="0.4">注</tspan><tspan x="421.4" y="-0.11" font-size="14.77" font-weight="bold" font-family="&quot;Liberation Serif&quot;, serif" stroke="none" letter-spacing="0" textLength="3.2" lengthAdjust="spacingAndGlyphs">:</tspan></text>
<text transform="translate(0 397.7) scale(1 0.88)" fill="#000"><tspan x="408" y="0" font-size="16.59" font-weight="normal" font-family="&quot;Liberation Serif&quot;, serif" stroke="#000" stroke-width="0.25" letter-spacing="0" textLength="48.4" lengthAdjust="spacingAndGlyphs">1.CBYa2</tspan><tspan x="456.44" y="-0.34" font-size="13.3" font-weight="bold" font-family="&quot;Liberation Sans&quot;, &quot;Noto Sans CJK SC&quot;, sans-serif" stroke="none" letter-spacing="0.45">型齿轮泵额定压力为</tspan><tspan x="580.6" y="0" font-size="16.14" font-weight="normal" font-family="&quot;Liberation Serif&quot;, serif" stroke="#000" stroke-width="0.25" letter-spacing="0" textLength="37.6" lengthAdjust="spacingAndGlyphs">16MPa</tspan><tspan x="617.94" y="-0.34" font-size="13.3" font-weight="bold" font-family="&quot;Liberation Sans&quot;, &quot;Noto Sans CJK SC&quot;, sans-serif" stroke="none" letter-spacing="0.4">，</tspan><tspan x="633.63" y="-0.34" font-size="13.3" font-weight="bold" font-family="&quot;Liberation Sans&quot;, &quot;Noto Sans CJK SC&quot;, sans-serif" stroke="none" letter-spacing="0.3">最高压力为</tspan><tspan x="700.8" y="0" font-size="16.14" font-weight="normal" font-family="&quot;Liberation Serif&quot;, serif" stroke="#000" stroke-width="0.25" letter-spacing="0" textLength="38.7" lengthAdjust="spacingAndGlyphs">20MPa</tspan><tspan x="739.94" y="-0.34" font-size="13.3" font-weight="bold" font-family="&quot;Liberation Sans&quot;, &quot;Noto Sans CJK SC&quot;, sans-serif" stroke="none" letter-spacing="0.4">，</tspan></text>
<text transform="translate(0 415.9) scale(1 0.88)" fill="#000"><tspan x="416.94" y="0" font-size="13.3" font-weight="bold" font-family="&quot;Liberation Sans&quot;, &quot;Noto Sans CJK SC&quot;, sans-serif" stroke="none" letter-spacing="0.5">安装连接尺寸与</tspan><tspan x="512.7" y="0.11" font-size="15.23" font-weight="normal" font-family="&quot;Liberation Serif&quot;, serif" stroke="#000" stroke-width="0.25" letter-spacing="0" textLength="29.3" lengthAdjust="spacingAndGlyphs">CB-F</tspan><tspan x="543.54" y="0" font-size="13.3" font-weight="bold" font-family="&quot;Liberation Sans&quot;, &quot;Noto Sans CJK SC&quot;, sans-serif" stroke="none" letter-spacing="0.35">系列齿轮泵相同</tspan><tspan x="639.74" y="0" font-size="13.3" font-weight="bold" font-family="&quot;Liberation Sans&quot;, &quot;Noto Sans CJK SC&quot;, sans-serif" stroke="none" letter-spacing="0.4">。</tspan></text>
<text transform="translate(0 433.9) scale(1 0.88)" fill="#000"><tspan x="407.2" y="0" font-size="16.36" font-weight="normal" font-family="&quot;Liberation Serif&quot;, serif" stroke="#000" stroke-width="0.25" letter-spacing="0" textLength="9" lengthAdjust="spacingAndGlyphs">2.</tspan><tspan x="416.94" y="-0.23" font-size="13.3" font-weight="bold" font-family="&quot;Liberation Sans&quot;, &quot;Noto Sans CJK SC&quot;, sans-serif" stroke="none" letter-spacing="0.6">图中尺寸</tspan><tspan x="472" y="0" font-size="16.36" font-weight="normal" font-family="&quot;Liberation Serif&quot;, serif" stroke="#000" stroke-width="0.25" letter-spacing="0" textLength="8.8" lengthAdjust="spacingAndGlyphs">A</tspan><tspan x="481.33" y="-0.23" font-size="13.3" font-weight="bold" font-family="&quot;Liberation Sans&quot;, &quot;Noto Sans CJK SC&quot;, sans-serif" stroke="none" letter-spacing="0.4">、</tspan><tspan x="495.4" y="0" font-size="16.36" font-weight="normal" font-family="&quot;Liberation Serif&quot;, serif" stroke="#000" stroke-width="0.25" letter-spacing="0" textLength="7.9" lengthAdjust="spacingAndGlyphs">B</tspan><tspan x="504.53" y="-0.23" font-size="13.3" font-weight="bold" font-family="&quot;Liberation Sans&quot;, &quot;Noto Sans CJK SC&quot;, sans-serif" stroke="none" letter-spacing="0.4">与</tspan><tspan x="518" y="0" font-size="16.36" font-weight="normal" font-family="&quot;Liberation Serif&quot;, serif" stroke="#000" stroke-width="0.25" letter-spacing="0" textLength="35.7" lengthAdjust="spacingAndGlyphs">CBY2</tspan><tspan x="553.94" y="-0.23" font-size="13.3" font-weight="bold" font-family="&quot;Liberation Sans&quot;, &quot;Noto Sans CJK SC&quot;, sans-serif" stroke="none" letter-spacing="0.3">相同</tspan><tspan x="581.54" y="-0.23" font-size="13.3" font-weight="bold" font-family="&quot;Liberation Sans&quot;, &quot;Noto Sans CJK SC&quot;, sans-serif" stroke="none" letter-spacing="0.4">。</tspan></text>
</svg>
</body>
</html>
